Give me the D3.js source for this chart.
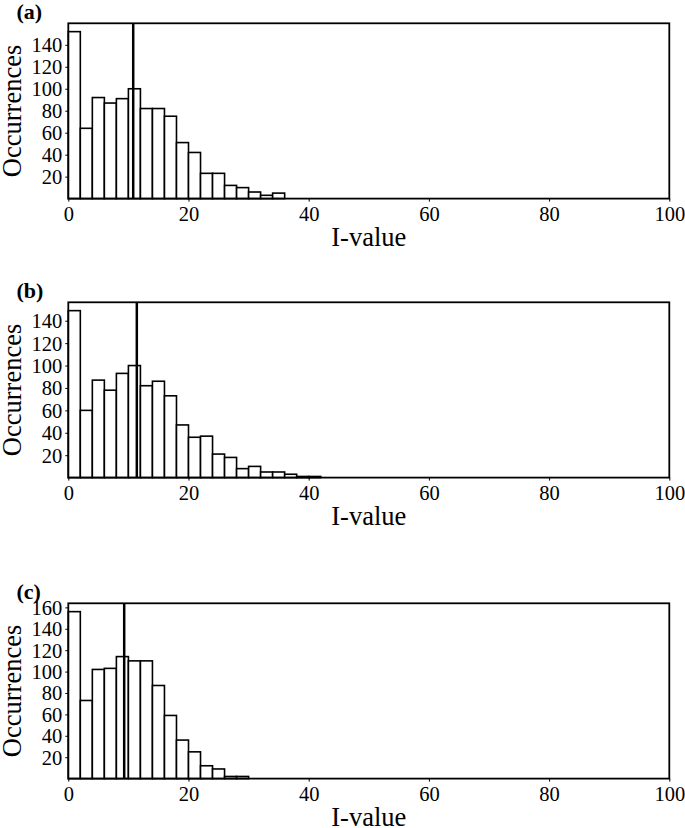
<!DOCTYPE html>
<html><head><meta charset="utf-8">
<script src="https://cdn.jsdelivr.net/npm/d3@7"></script>
<style>
html,body{margin:0;padding:0;background:#fff;}
</style></head>
<body><svg id="chart" width="685" height="828"></svg>
<script>
// Histogram bins: 2-unit wide bins starting at 0
const binWidth = 2;
const panelLabels = ["(a)", "(b)", "(c)"];
const countsA = [152, 64, 92, 87, 91, 100, 82, 82, 75, 51, 42, 23, 23, 12, 10, 6, 3, 5];
const countsB = [149, 60, 87, 78, 93, 100, 82, 86, 73, 47, 36, 37, 21, 18, 8, 10, 5, 5, 3, 1, 1];
const countsC = [156, 73, 102, 103, 114, 110, 110, 87, 59, 36, 25, 12, 9, 2, 2];
const meanLines = [10.8, 11.4, 9.3];
const xTicks = [0, 20, 40, 60, 80, 100];
const yTicksAB = [20, 40, 60, 80, 100, 120, 140];
const yTicksC = [20, 40, 60, 80, 100, 120, 140, 160];
const xLabel = "I-value";
const yLabel = "Occurrences";

const FONT = "'Liberation Serif', 'Times New Roman', Times, serif";

const panels = [
  {label: panelLabels[0], counts: countsA, mean: meanLines[0], yTicks: yTicksAB, top: 23.3},
  {label: panelLabels[1], counts: countsB, mean: meanLines[1], yTicks: yTicksAB, top: 302.3},
  {label: panelLabels[2], counts: countsC, mean: meanLines[2], yTicks: yTicksC, top: 603.3}
];

const svg = d3.select("#chart");
const left = 68.3, right = 669.3, h = 175.3;

panels.forEach(p => {
  const g = svg.append("g");
  const bottom = p.top + h;
  const x = d3.scaleLinear().domain([0, 100]).range([left, right]);
  const ymax = d3.max(p.counts) * 1.05;
  const y = d3.scaleLinear().domain([0, ymax]).range([bottom, p.top]);

  // bars
  g.selectAll("rect.bar").data(p.counts).enter().append("rect")
    .attr("class", "bar")
    .attr("x", (d, i) => x(i * binWidth))
    .attr("width", (d, i) => x((i + 1) * binWidth) - x(i * binWidth))
    .attr("y", d => y(d))
    .attr("height", d => y(0) - y(d))
    .attr("fill", "#fff").attr("stroke", "#000").attr("stroke-width", 1.6);

  // mean line
  g.append("line")
    .attr("x1", x(p.mean)).attr("x2", x(p.mean))
    .attr("y1", y(0)).attr("y2", p.top)
    .attr("stroke", "#000").attr("stroke-width", 2.5);

  // axes
  const xa = g.append("g").attr("transform", `translate(0,${bottom})`)
    .call(d3.axisBottom(x).tickValues(xTicks).tickSize(3).tickPadding(2).tickFormat(d3.format("d")));
  const ya = g.append("g").attr("transform", `translate(${left},0)`)
    .call(d3.axisLeft(y).tickValues(p.yTicks).tickSize(3).tickPadding(3).tickFormat(d3.format("d")));
  [xa, ya].forEach(a => {
    a.attr("font-family", null).attr("font-size", null);
    a.select(".domain").remove();
    a.selectAll("line").attr("stroke", "#000").attr("stroke-width", 1);
    a.selectAll("text").style("font-family", FONT).style("font-size", "20.5px").attr("fill", "#000");
  });
  xa.selectAll("text").attr("dy", "0.85em");
  ya.selectAll("text").attr("dy", "0.34em");

  // frame
  g.append("rect").attr("x", left).attr("y", p.top).attr("width", right - left).attr("height", h)
    .attr("fill", "none").attr("stroke", "#000").attr("stroke-width", 1.8);

  // labels
  g.append("text").attr("x", (left + right) / 2).attr("y", bottom + 47)
    .attr("text-anchor", "middle").style("font-family", FONT).style("font-size", "26.5px").text(xLabel);
  g.append("text")
    .attr("transform", `translate(21,${p.top + h / 2}) rotate(-90)`)
    .attr("text-anchor", "middle").style("font-family", FONT).style("font-size", "26.5px").text(yLabel);
  g.append("text").attr("x", 16.5).attr("y", p.top - 4.5)
    .style("font-family", FONT).style("font-size", "22px").style("font-weight", "bold").text(p.label);
});
</script></body></html>
